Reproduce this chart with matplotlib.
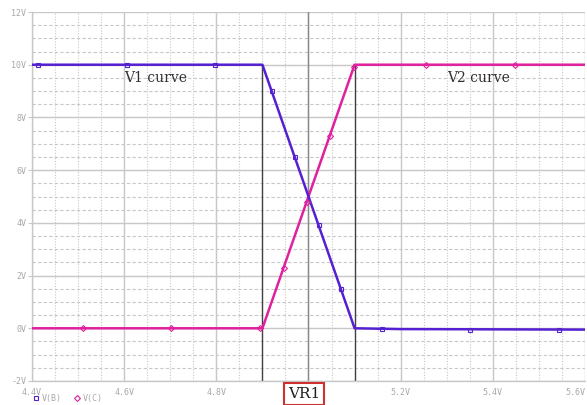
import matplotlib
matplotlib.use("Agg")
import matplotlib.pyplot as plt
from matplotlib.lines import Line2D
import numpy as np

# V(B) - V1 curve
v1_x = [4.4, 4.9, 5.1, 5.2, 5.6]
v1_y = [10.0, 10.0, 0.0, -0.03, -0.05]
v1_mx = [4.413, 4.607, 4.798, 4.92, 4.97, 5.022, 5.07, 5.159, 5.35, 5.543]
v1_my = [10.0, 10.0, 10.0, 9.0, 6.5, 3.9, 1.5, -0.02, -0.05, -0.05]

# V(C) - V2 curve
v2_x = [4.4, 4.9, 5.1, 5.6]
v2_y = [0.0, 0.0, 10.0, 10.0]
v2_mx = [4.511, 4.702, 4.894, 4.946, 4.996, 5.046, 5.098, 5.254, 5.448]
v2_my = [0.0, 0.0, 0.0, 2.3, 4.8, 7.3, 9.9, 10.0, 10.0]

x_ticks = [4.4, 4.6, 4.8, 5.0, 5.2, 5.4, 5.6]
x_labels = ["4.4V", "4.6V", "4.8V", "5.0V", "5.2V", "5.4V", "5.6V"]
y_ticks = [-2, 0, 2, 4, 6, 8, 10, 12]
y_labels = ["-2V", "0V", "2V", "4V", "6V", "8V", "10V", "12V"]
cursors = [4.9, 5.1]

C1 = "#5520d2"
C2 = "#e0209e"
GRID = "#c8c8c8"
LBL = "#a8a8a8"

fig = plt.figure(figsize=(5.87, 4.05), dpi=100)
ax = fig.add_axes([32 / 587, 1 - 381 / 405, 553 / 587, 369 / 405])
ax.set_xlim(4.4, 5.6)
ax.set_ylim(-2, 12)

# grid: solid major, dashed horizontal minor, dotted vertical minor
for xv in np.arange(4.45, 5.6, 0.05):
    ax.axvline(xv, color=GRID, lw=0.8, ls=(0, (1, 1.5)), zorder=0)
for yv in np.arange(-1.5, 12, 0.5):
    ax.axhline(yv, color=GRID, lw=0.8, ls=(0, (3, 2)), zorder=0)
for xv in x_ticks:
    ax.axvline(xv, color=GRID, lw=1.0, zorder=0.5)
for yv in y_ticks:
    ax.axhline(yv, color=GRID, lw=1.0, zorder=0.5)

# cursor lines
ax.axvline(5.0, color="#8a8a8a", lw=1.0, zorder=1)
for cx in cursors:
    ax.plot([cx, cx], [-2, 10], color="#404040", lw=1.0, zorder=1)

ax.plot(v2_x, v2_y, color=C2, lw=1.8, zorder=3)
ax.plot(v2_mx, v2_my, ls="none", marker="D", ms=3, mfc="none", mec=C2, mew=0.8, zorder=4)
ax.plot(v1_x, v1_y, color=C1, lw=1.8, zorder=3)
ax.plot(v1_mx, v1_my, ls="none", marker="s", ms=3, mfc="none", mec=C1, mew=0.8, zorder=4)

ax.text(4.6, 9.5, "V1 curve", family="DejaVu Serif", fontsize=10, color="#303030",
        ha="left", va="center")
ax.text(5.3, 9.5, "V2 curve", family="DejaVu Serif", fontsize=10, color="#303030",
        ha="left", va="center")

ax.set_xticks(x_ticks)
ax.set_xticklabels(x_labels)
ax.set_yticks(y_ticks)
ax.set_yticklabels(y_labels)
ax.tick_params(axis="both", colors=GRID, labelcolor=LBL, labelsize=6, length=3, width=0.8)
for lab in ax.get_xticklabels() + ax.get_yticklabels():
    lab.set_family("DejaVu Sans Mono")
ax.get_xticklabels()[-1].set_ha("right")
ax.tick_params(axis="x", length=0, pad=5)
ax.tick_params(axis="y", pad=1)

for side in ["top", "right"]:
    ax.spines[side].set_visible(False)
for side in ["left", "bottom"]:
    ax.spines[side].set_color(GRID)
    ax.spines[side].set_linewidth(1.0)

# legend row
ly = 1 - 398 / 405
fig.add_artist(Line2D([36 / 587], [ly], transform=fig.transFigure, ls="none",
                      marker="s", ms=3, mfc="none", mec=C1, mew=0.8))
fig.text(42 / 587, ly, "V(B)", color=LBL, fontsize=6, va="center",
         family="DejaVu Sans Mono")
fig.add_artist(Line2D([77 / 587], [ly], transform=fig.transFigure, ls="none",
                      marker="D", ms=3, mfc="none", mec=C2, mew=0.8))
fig.text(83 / 587, ly, "V(C)", color=LBL, fontsize=6, va="center",
         family="DejaVu Sans Mono")

fig.text(304 / 587, 1 - 394 / 405, "VR1", family="DejaVu Serif", fontsize=11,
         color="#202020", ha="center", va="center", zorder=10,
         bbox=dict(boxstyle="square,pad=0.25", fc="white", ec="#d03030", lw=1.5))

fig.savefig("out.png", dpi=100)
